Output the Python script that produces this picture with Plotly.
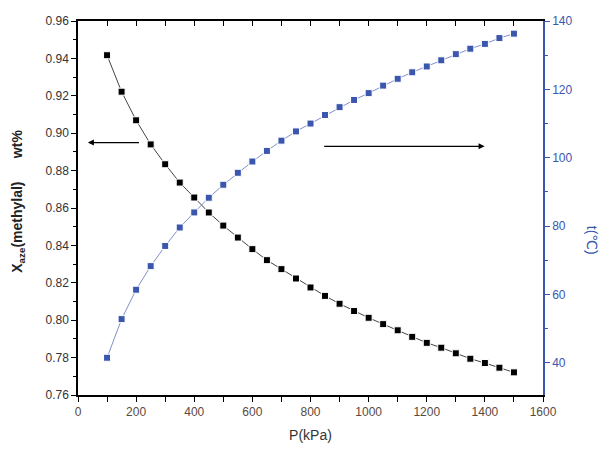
import plotly.graph_objects as go

pressure = [100, 150, 200, 250, 300, 350, 400, 450, 500, 550, 600, 650, 700, 750, 800,
            850, 900, 950, 1000, 1050, 1100, 1150, 1200, 1250, 1300, 1350, 1400, 1450, 1500]
x_aze = [0.9417, 0.9222, 0.9069, 0.8940, 0.8834, 0.8736, 0.8656, 0.8576, 0.8506, 0.8442,
         0.8380, 0.8321, 0.8273, 0.8223, 0.8175, 0.8130, 0.8088, 0.8049, 0.8013, 0.7979,
         0.7946, 0.7911, 0.7879, 0.7853, 0.7823, 0.7794, 0.7771, 0.7746, 0.7721]
t_aze = [41.5, 52.8, 61.4, 68.3, 74.2, 79.6, 84.0, 88.3, 92.1, 95.6, 98.9, 102.0, 105.0,
         107.7, 110.0, 112.5, 114.8, 116.9, 118.9, 121.1, 123.1, 125.0, 126.7, 128.5,
         130.3, 131.9, 133.3, 135.0, 136.3]

x_ticks = [0, 200, 400, 600, 800, 1000, 1200, 1400, 1600]
left_ticks = [0.76, 0.78, 0.80, 0.82, 0.84, 0.86, 0.88, 0.90, 0.92, 0.94, 0.96]
right_ticks = [40, 60, 80, 100, 120, 140]

BLUE = "#3a56ad"
FONT = "Liberation Sans, Arial, sans-serif"

fig = go.Figure()
fig.add_trace(go.Scatter(
    x=pressure, y=x_aze, mode="lines+markers",
    line=dict(color="#444444", width=1),
    marker=dict(symbol="square", size=7, color="black", line=dict(color="white", width=1)),
    xaxis="x", yaxis="y", showlegend=False))
fig.add_trace(go.Scatter(
    x=pressure, y=t_aze, mode="lines+markers",
    line=dict(color="#8090cc", width=1),
    marker=dict(symbol="square", size=7, color=BLUE, line=dict(color="white", width=1)),
    xaxis="x", yaxis="y2", showlegend=False))
# dummy trace to activate top axis
fig.add_trace(go.Scatter(x=[None], y=[None], xaxis="x2", yaxis="y", showlegend=False, hoverinfo="skip"))

fig.update_layout(
    width=602, height=452,
    margin=dict(l=77.5, r=58.5, t=20.5, b=57),
    paper_bgcolor="white", plot_bgcolor="white",
    font=dict(family=FONT),
    xaxis=dict(
        range=[0, 1600], tickvals=x_ticks, ticktext=[str(v) for v in x_ticks],
        showgrid=False, zeroline=False, showline=True, linecolor="black", linewidth=1.5,
        ticks="outside", ticklen=5, tickwidth=1.2, tickcolor="black",
        minor=dict(dtick=100, tick0=0, ticks="outside", ticklen=5, tickwidth=1.2, tickcolor="black", showgrid=False),
        tickfont=dict(size=12, color="#5a4a3e", family=FONT),
        title=dict(text="P(kPa)", font=dict(size=14, color="#333333", family=FONT), standoff=12),
    ),
    xaxis2=dict(
        range=[0, 1600], overlaying="x", side="top", anchor="y",
        tickvals=x_ticks, showticklabels=False,
        showgrid=False, zeroline=False, showline=True, linecolor="black", linewidth=1.5,
        ticks="inside", ticklen=5, tickwidth=1.2, tickcolor="black",
        minor=dict(dtick=100, tick0=0, ticks="inside", ticklen=5, tickwidth=1.2, tickcolor="black", showgrid=False),
    ),
    yaxis=dict(
        range=[0.76, 0.96], tickvals=left_ticks, ticktext=["%.2f" % v for v in left_ticks],
        showgrid=False, zeroline=False, showline=True, linecolor="black", linewidth=1.5,
        ticks="outside", ticklen=5, tickwidth=1.2, tickcolor="black",
        minor=dict(dtick=0.01, tick0=0.76, ticks="outside", ticklen=3, tickwidth=1.2, tickcolor="black", showgrid=False),
        tickfont=dict(size=12, color="#333333", family=FONT),
    ),
    yaxis2=dict(
        range=[30.6, 140], overlaying="y", side="right", anchor="x",
        tickvals=right_ticks, ticktext=[str(v) for v in right_ticks],
        showgrid=False, zeroline=False, showline=True, linecolor=BLUE, linewidth=1.5,
        ticks="outside", ticklen=5, tickwidth=1.2, tickcolor=BLUE,
        minor=dict(dtick=10, tick0=40, ticks="outside", ticklen=3, tickwidth=1.2, tickcolor=BLUE, showgrid=False),
        tickfont=dict(size=12, color=BLUE, family=FONT),
    ),
)

fig.add_annotation(
    xref="paper", yref="paper", x=-0.128, y=0.518, xanchor="center", yanchor="middle",
    text="<b>X<sub>aze</sub>(methylal)      wt%</b>", textangle=-90, showarrow=False,
    font=dict(size=14, color="#222222", family=FONT))
fig.add_annotation(
    xref="paper", yref="paper", x=1.104, y=0.414, xanchor="center", yanchor="middle",
    text="t(℃)", textangle=90, showarrow=False,
    font=dict(size=14, color=BLUE, family="Liberation Sans, DejaVu Sans, sans-serif"))

# arrows
fig.add_annotation(
    x=34, y=0.895, xref="x", yref="y", ax=215, ay=0.895, axref="x", ayref="y",
    text="", showarrow=True, arrowhead=2, arrowsize=1, arrowwidth=1.2, arrowcolor="black")
fig.add_annotation(
    x=1399, y=0.893, xref="x", yref="y", ax=842, ay=0.893, axref="x", ayref="y",
    text="", showarrow=True, arrowhead=2, arrowsize=1, arrowwidth=1.2, arrowcolor="black")

fig.write_html(
    "out.html",
    config={"displayModeBar": False},
    post_script="document.body.style.margin='0';document.body.style.overflow='hidden';")
